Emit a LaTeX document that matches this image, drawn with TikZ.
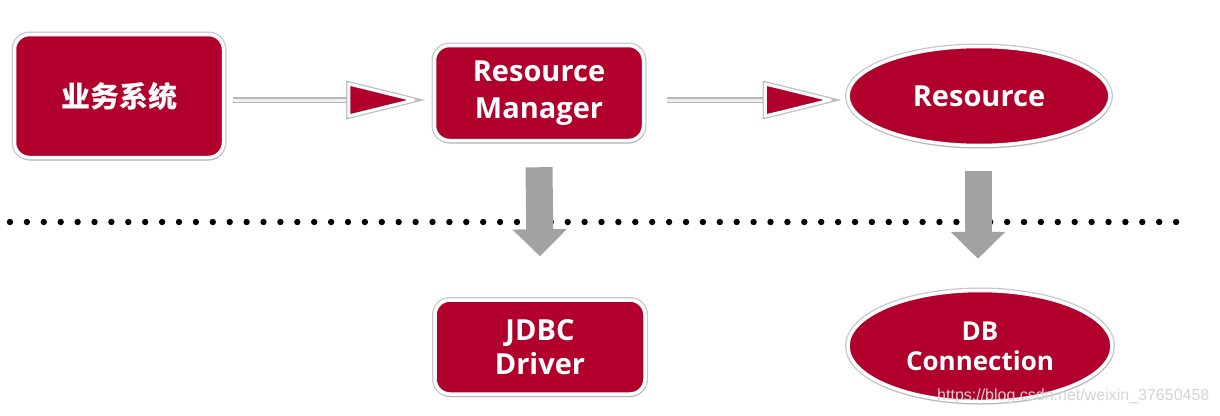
\documentclass[tikz,border=0pt]{standalone}
\usepackage{fontspec}
\setmainfont{Open Sans}
\newfontfamily\cjk{Noto Sans CJK SC}
\newfontfamily\wmfont{Liberation Sans}
\usetikzlibrary{shapes.geometric,shadows,calc,arrows.meta}
\definecolor{crim}{RGB}{178,0,44}
\definecolor{arrgray}{RGB}{162,162,162}
\definecolor{wmgray}{RGB}{212,212,212}
\begin{document}
\begin{tikzpicture}[x=1pt,y=-1pt,
  base/.style={fill=crim, draw=white, line width=3.5pt,
    preaction={draw=black!22, line width=6pt},
    drop shadow={opacity=0.25, shadow xshift=1pt, shadow yshift=-3pt},
    text=white, align=center, inner sep=0pt},
  bigtext/.style={font=\bfseries\fontsize{29}{37}\selectfont},
  rbox/.style={base, rectangle, rounded corners=15pt},
  oval/.style={base, ellipse},
  shaft/.style={draw=white!94!black, line width=3pt, line cap=butt,
    preaction={draw=black!28, line width=6pt}},
  headtri/.style={fill=crim, draw=white, line width=3pt, line join=round,
    preaction={draw=black!25, line width=5.5pt}},
  downarr/.style={draw=arrgray, line width=27pt, line cap=butt,
    -{Triangle[length=27pt, width=53pt]}},
  dotmark/.style={fill=black}
]
\fill[white] (0,0) rectangle (1220,415);
\useasboundingbox (0,0) rectangle (1220,415);

% nodes
\node[rbox, bigtext, minimum width=209pt, minimum height=123pt] (b1) at (119,96) {\cjk\bfseries 业务系统};
\node[rbox, bigtext, minimum width=209pt, minimum height=95pt] (b2) at (539,93) {Resource\\Manager};
\node[oval, bigtext, minimum width=262pt, minimum height=99pt] (res) at (979,96) {Resource};
\node[rbox, font=\bfseries\fontsize{29}{34}\selectfont, minimum width=210pt, minimum height=94pt] (jd) at (540,347) {JDBC\\Driver};
\node[oval, font=\bfseries\fontsize{26}{30}\selectfont, minimum width=264pt, minimum height=111pt] (db) at (980,346) {DB\\Connection};

% dotted separator
\coordinate (dl) at (10,222);
\foreach \i in {0,...,69} {
  \fill[dotmark] ($(dl)+(\i*16.9,0)$) circle (3.2pt);
}

% horizontal arrows
\coordinate (a1s) at ($(b1.east)+(8,4)$);
\coordinate (a1t) at ($(b2.west)+(-19,7)$);
\coordinate (a1h) at ($(a1t)+(-65,0)$);
\draw[shaft] (a1s) -- ($(a1h)+(4,0)$);
\draw[headtri] (a1t) -- ($(a1h)+(0,-16)$) -- ($(a1h)+(0,16)$) -- cycle;

\coordinate (a2s) at ($(b2.east)+(22,7)$);
\coordinate (a2t) at ($(res.west)+(-16,4)$);
\coordinate (a2h) at ($(a2t)+(-65,0)$);
\draw[shaft] (a2s) -- ($(a2h)+(4,0)$);
\draw[headtri] (a2t) -- ($(a2h)+(0,-16)$) -- ($(a2h)+(0,16)$) -- cycle;

% down arrows
\draw[downarr] ($(b2.south)+(0,25)$) -- ($(jd.north)+(0,-42)$);
\draw[downarr] ($(res.south)+(-1,24)$) -- ($(db.north)+(-2,-30)$);

% watermark
\node[anchor=base west, inner sep=0pt, text=wmgray, font=\wmfont\fontsize{16}{16}\selectfont] (wm) at (937,400) {https://blog.csdn.net/weixin\_37650458};
\end{tikzpicture}
\end{document}
